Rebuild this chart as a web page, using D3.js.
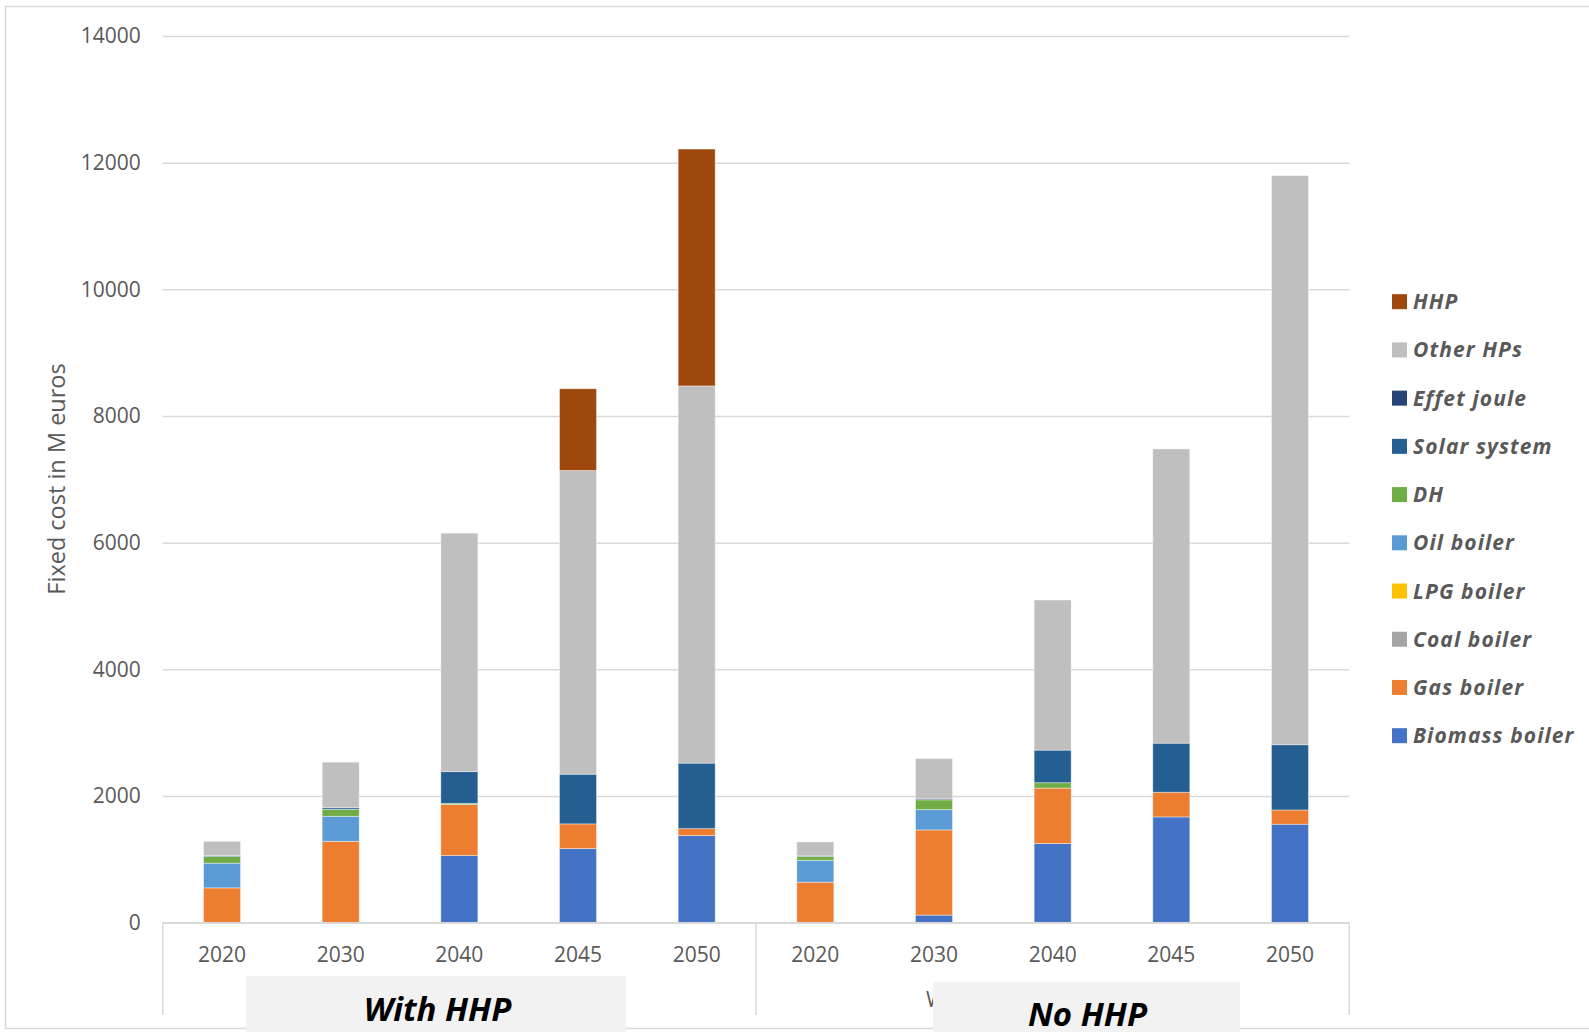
<!DOCTYPE html>
<html>
<head>
<meta charset="utf-8">
<script src="https://cdn.jsdelivr.net/npm/d3@7"></script>
<style>
  html, body { margin: 0; padding: 0; background: #fff; }
  svg { display: block; font-family: "Open Sans", "Liberation Sans", sans-serif; }
</style>
</head>
<body>
<svg id="chart" width="1589" height="1032"></svg>
<script>
// Fixed cost of heating equipment (M euros), two scenarios × five years
const groups = ["With HHP", "No HHP"];
const years = ["2020", "2030", "2040", "2045", "2050"];
const categories = groups.flatMap(g => years.map(y => g + "|" + y));

// Series in stacking order (bottom to top); one value per category
const seriesNames = ["Biomass boiler", "Gas boiler", "Coal boiler", "LPG boiler", "Oil boiler",
                     "DH", "Solar system", "Effet joule", "Other HPs", "HHP"];
const biomassBoiler = [0, 0, 1060, 1170, 1375, 0, 120, 1250, 1670, 1555];
const gasBoiler     = [550, 1285, 805, 390, 110, 640, 1345, 875, 390, 225];
const coalBoiler    = [0, 0, 0, 0, 0, 0, 0, 0, 0, 0];
const lpgBoiler     = [0, 0, 0, 0, 0, 0, 0, 0, 0, 0];
const oilBoiler     = [390, 395, 0, 0, 0, 345, 320, 0, 0, 0];
const dh            = [105, 110, 20, 0, 0, 60, 155, 85, 0, 0];
const solarSystem   = [15, 25, 500, 785, 1035, 10, 0, 515, 775, 1030];
const effetJoule    = [0, 0, 0, 0, 0, 0, 15, 0, 0, 0];
const otherHPs      = [225, 720, 3765, 4795, 5955, 220, 636, 2370, 4645, 8985];
const hhp           = [0, 0, 0, 1290, 3740, 0, 0, 0, 0, 0];
const seriesColors  = ["#4472C4", "#ED7D31", "#A5A5A5", "#FFC000", "#5B9BD5",
                       "#70AD47", "#255E91", "#264478", "#BFBFBF", "#9E480E"];

const yTicks = [0, 2000, 4000, 6000, 8000, 10000, 12000, 14000];

const seriesValues = [biomassBoiler, gasBoiler, coalBoiler, lpgBoiler, oilBoiler,
                      dh, solarSystem, effetJoule, otherHPs, hhp];
const rows = categories.map((c, i) => {
  const r = { cat: c };
  seriesNames.forEach((s, k) => { r[s] = seriesValues[k][i]; });
  return r;
});

const svg = d3.select("#chart");
const textColor = "#595959";
const lineColor = "#D9D9D9";

// outer chart frame
svg.append("rect")
  .attr("x", 5.5).attr("y", 6.5).attr("width", 1620).attr("height", 1022)
  .attr("fill", "none").attr("stroke", lineColor).attr("stroke-width", 1.5);

const plotLeft = 162.7, plotRight = 1349.3, plotTop = 36, plotBottom = 922.7;

const x = d3.scaleBand().domain(categories).range([plotLeft, plotRight])
  .paddingInner(0.688).paddingOuter(0.344);
const y = d3.scaleLinear().domain([0, 14000]).range([plotBottom, plotTop]);

// horizontal gridlines + value labels
const yAxis = d3.axisLeft(y).tickValues(yTicks)
  .tickSize(-(plotRight - plotLeft)).tickPadding(22).tickFormat(d3.format("d"));
const gy = svg.append("g").attr("transform", `translate(${plotLeft},0)`).call(yAxis);
gy.select(".domain").remove();
gy.selectAll(".tick line").attr("stroke", lineColor).attr("stroke-width", 1.5);
gy.selectAll(".tick text").attr("fill", textColor).attr("font-size", 21)
  .attr("font-family", "Open Sans");

// stacked bars
const stack = d3.stack().keys(seriesNames);
const stacked = stack(rows);
svg.append("g").selectAll("g").data(stacked).join("g")
  .attr("fill", (d, i) => seriesColors[i])
  .selectAll("rect").data(d => d.filter(p => p[1] - p[0] > 0)).join("rect")
  .attr("x", d => x(d.data.cat))
  .attr("width", x.bandwidth())
  .attr("y", d => y(d[1]))
  .attr("height", d => y(d[0]) - y(d[1]))
  .attr("stroke", "#ffffff").attr("stroke-opacity", 0.5).attr("stroke-width", 0.8);

// category axis: baseline and group separators
svg.append("line").attr("x1", plotLeft).attr("x2", plotRight)
  .attr("y1", plotBottom).attr("y2", plotBottom)
  .attr("stroke", lineColor).attr("stroke-width", 1.5);
const sepX = [plotLeft, (x(categories[4]) + x.bandwidth() + x(categories[5])) / 2, plotRight];
svg.append("g").selectAll("line").data(sepX).join("line")
  .attr("x1", d => d).attr("x2", d => d)
  .attr("y1", plotBottom).attr("y2", 1015)
  .attr("stroke", lineColor).attr("stroke-width", 1.5);

// year labels
svg.append("g").selectAll("text").data(categories).join("text")
  .attr("x", d => x(d) + x.bandwidth() / 2)
  .attr("y", 962)
  .attr("text-anchor", "middle")
  .attr("fill", textColor).attr("font-size", 21)
  .text(d => d.split("|")[1]);

// edge of the plain group caption peeking out from under the caption box
svg.append("text").attr("x", 926).attr("y", 1007)
  .attr("fill", textColor).attr("font-size", 21).text("W");

// highlighted group captions
const captions = [
  { label: groups[0], x0: 246, x1: 626, y0: 976, tx: 437.5, ty: 1020.5 },
  { label: groups[1], x0: 933, x1: 1240, y0: 982, tx: 1087.5, ty: 1026 }
];
const cap = svg.append("g").selectAll("g").data(captions).join("g");
cap.append("rect")
  .attr("x", d => d.x0).attr("y", d => d.y0)
  .attr("width", d => d.x1 - d.x0).attr("height", d => 1032 - d.y0)
  .attr("fill", "#F2F2F2");
cap.append("text")
  .attr("x", d => d.tx).attr("y", d => d.ty)
  .attr("text-anchor", "middle")
  .attr("font-size", 33).attr("font-weight", 700).attr("font-style", "italic")
  .attr("fill", "#000")
  .text(d => d.label);

// y axis title
svg.append("text")
  .attr("transform", "translate(65,479) rotate(-90)")
  .attr("text-anchor", "middle")
  .attr("fill", textColor).attr("font-size", 23.5)
  .text("Fixed cost in M euros");

// legend (top entry is the top of the stack)
const legendItems = seriesNames.map((s, i) => ({ name: s, color: seriesColors[i] })).reverse();
const lg = svg.append("g").selectAll("g").data(legendItems).join("g")
  .attr("transform", (d, i) => `translate(1392,${301.7 + i * 48.22})`);
lg.append("rect").attr("x", 0).attr("y", -7.5).attr("width", 15).attr("height", 15)
  .attr("fill", d => d.color);
lg.append("text").attr("x", 21).attr("y", 7.5)
  .attr("font-size", 21).attr("font-weight", 700).attr("font-style", "italic")
  .attr("letter-spacing", 1.1)
  .attr("fill", textColor)
  .text(d => d.name);
</script>
</body>
</html>
